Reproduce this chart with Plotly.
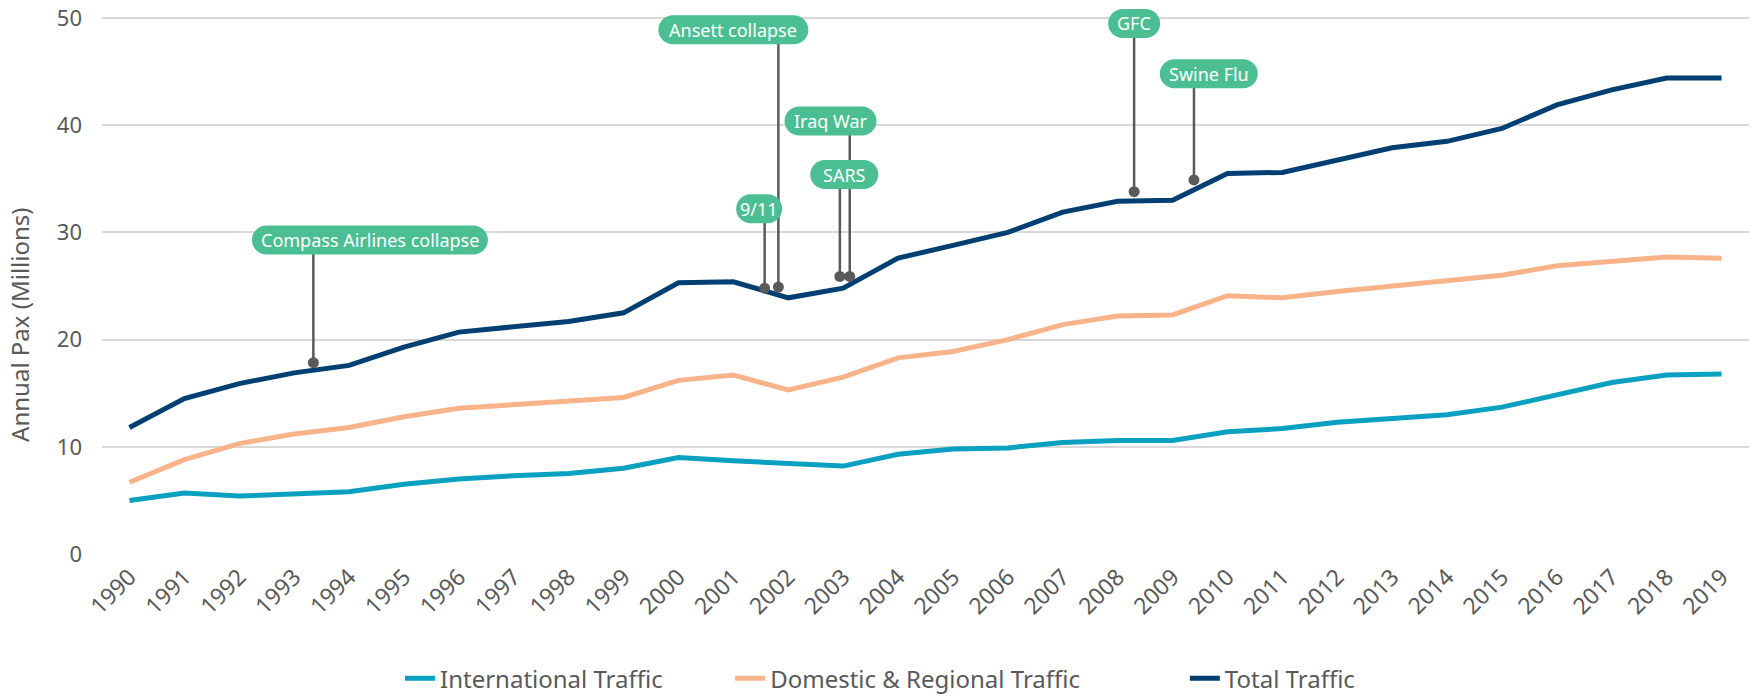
import plotly.graph_objects as go

years = list(range(1990, 2020))
international = [5.0, 5.7, 5.4, 5.6, 5.8, 6.5, 7.0, 7.3, 7.5, 8.0,
                 9.0, 8.7, 8.5, 8.2, 9.3, 9.8, 9.9, 10.4, 10.6, 10.6,
                 11.4, 11.7, 12.3, 12.7, 13.0, 13.7, 14.9, 16.0, 16.7, 16.8]
domestic = [6.7, 8.8, 10.3, 11.2, 11.8, 12.8, 13.6, 13.9, 14.3, 14.6,
            16.2, 16.7, 15.3, 16.5, 18.3, 18.9, 20.0, 21.4, 22.2, 22.3,
            24.1, 23.9, 24.5, 25.0, 25.4, 26.0, 26.9, 27.3, 27.7, 27.6]
total = [11.8, 14.5, 15.9, 16.9, 17.6, 19.3, 20.7, 21.2, 21.7, 22.5,
         25.3, 25.4, 23.9, 24.8, 27.6, 28.8, 30.0, 31.9, 32.9, 33.0,
         35.5, 35.6, 36.8, 37.9, 38.5, 39.7, 41.9, 43.3, 44.4, 44.4]

series_names = ["International Traffic", "Domestic & Regional Traffic", "Total Traffic"]

# events: name, year position of marker, marker value, label centre year, label value
event_names = ["Compass Airlines collapse", "9/11", "Ansett collapse", "SARS", "Iraq War", "GFC", "Swine Flu"]
event_x = [1993.35, 2001.57, 2001.82, 2002.94, 2003.12, 2008.3, 2009.39]
event_y = [17.85, 24.8, 24.9, 25.9, 25.9, 33.8, 34.9]
label_x = [1994.38, 2001.47, 2001.0, 2003.02, 2002.77, 2008.3, 2009.66]
label_y = [29.3, 32.2, 48.9, 35.4, 40.4, 49.5, 44.8]
pill_w = [236, 46, 150, 68, 92, 52, 98]

C_INT = "#0aa0bf"
C_DOM = "#f9b38a"
C_TOT = "#003f72"
C_PILL = "#4bbf93"
C_GREY = "#5a5a5a"
C_TXT = "#595959"
FONT = "Noto Sans"
NB = "\u00a0"

fig = go.Figure()
fig.add_trace(go.Scatter(x=years, y=international, mode="lines", name=series_names[0] + NB * 10,
                         line=dict(color=C_INT, width=5)))
fig.add_trace(go.Scatter(x=years, y=domestic, mode="lines", name=series_names[1] + NB * 16,
                         line=dict(color=C_DOM, width=5)))
fig.add_trace(go.Scatter(x=years, y=total, mode="lines", name=series_names[2],
                         line=dict(color=C_TOT, width=5)))

shapes = []
for ex, ey, ly in zip(event_x, event_y, label_y):
    shapes.append(dict(type="line", xref="x", yref="y", x0=ex, x1=ex, y0=ey, y1=ly,
                       line=dict(color=C_GREY, width=2.5), layer="above"))


def pill_path(w, h):
    r = h / 2
    k = 0.5523 * r
    a = w / 2
    return (f"M {-a + r},{-r} L {a - r},{-r} "
            f"C {a - r + k},{-r} {a},{-k} {a},0 "
            f"C {a},{k} {a - r + k},{r} {a - r},{r} "
            f"L {-a + r},{r} "
            f"C {-a + r - k},{r} {-a},{k} {-a},0 "
            f"C {-a},{-k} {-a + r - k},{-r} {-a + r},{-r} Z")


for lx, ly, w in zip(label_x, label_y, pill_w):
    shapes.append(dict(type="path", xref="x", yref="y", xsizemode="pixel", ysizemode="pixel",
                       xanchor=lx, yanchor=ly, path=pill_path(w, 29),
                       fillcolor=C_PILL, line=dict(width=0), layer="above"))

for ex, ey in zip(event_x, event_y):
    shapes.append(dict(type="circle", xref="x", yref="y", xsizemode="pixel", ysizemode="pixel",
                       xanchor=ex, yanchor=ey, x0=-5.5, x1=5.5, y0=-5.5, y1=5.5,
                       fillcolor=C_GREY, line=dict(width=0), layer="above"))

annotations = []
for name, lx, ly in zip(event_names, label_x, label_y):
    annotations.append(dict(x=lx, y=ly, xref="x", yref="y", text=name, showarrow=False,
                            font=dict(family=FONT, size=18, color="white"),
                            xanchor="center", yanchor="middle"))

annotations.append(dict(x=-0.0498, y=0.415, xref="paper", yref="paper", text="Annual Pax (Millions)",
                        showarrow=False, textangle=-90, xanchor="center", yanchor="middle",
                        font=dict(family=FONT, size=24, color=C_TXT)))

fig.update_layout(
    width=1756, height=699,
    margin=dict(l=102, r=7, t=2, b=145, autoexpand=False),
    paper_bgcolor="white", plot_bgcolor="white",
    font=dict(family=FONT, color=C_TXT),
    shapes=shapes, annotations=annotations,
    showlegend=True,
    legend=dict(orientation="h", x=400 / 1756, xanchor="left", xref="container",
                y=-0.226, yanchor="middle", yref="paper",
                font=dict(family=FONT, size=24, color=C_TXT),
                itemwidth=30, traceorder="normal"),
    xaxis=dict(range=[1989.5, 2019.5], tickmode="array", tickvals=years,
               ticktext=[str(y) for y in years], tickangle=-45, showgrid=False,
               zeroline=False, showline=False, ticks="", ticklabelstandoff=4,
               tickfont=dict(family=FONT, size=23, color=C_TXT)),
    yaxis=dict(range=[0, 51.5], tickvals=[0, 10, 20, 30, 40, 50], showgrid=True,
               gridcolor="#d9d9d9", gridwidth=2, zeroline=False, showline=False,
               ticklabelstandoff=19,
               tickfont=dict(family=FONT, size=22, color=C_TXT)),
)

fig.write_html("out.html", config={"displayModeBar": False},
               post_script="document.body.style.margin='0';document.body.style.overflow='hidden';")
